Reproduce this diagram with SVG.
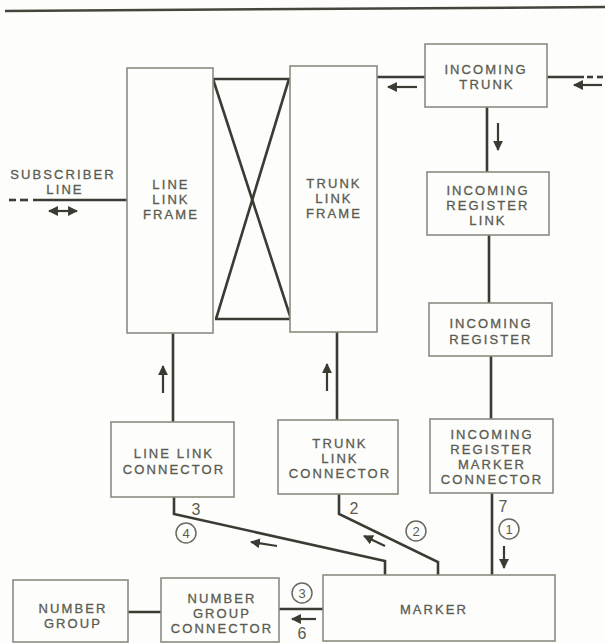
<svg xmlns="http://www.w3.org/2000/svg" width="605" height="643" viewBox="0 0 605 643">
<defs>
<style>
.box{fill:#fdfdfb;stroke:#8a8c80;stroke-width:1.6}
.ln{fill:none;stroke:#3a3b32;stroke-width:2.6;stroke-linejoin:miter}
.ar{fill:none;stroke:#3a3b32;stroke-width:2.2}
.t{font-family:"Liberation Sans",Arial,sans-serif;font-size:13px;fill:#5a5b51;text-anchor:middle;letter-spacing:2.1px;stroke:#5a5b51;stroke-width:0.3}
.n{font-family:"Liberation Sans",Arial,sans-serif;font-size:16px;fill:#5a5b51;text-anchor:middle}
.c{fill:none;stroke:#6a6b60;stroke-width:1.5}
.cn{font-family:"Liberation Sans",Arial,sans-serif;font-size:13px;fill:#5a5b51;text-anchor:middle}
</style>
<marker id="ah" viewBox="0 0 10 10" refX="9" refY="5" markerWidth="4.5" markerHeight="4.5" orient="auto-start-reverse">
<path d="M0,0 L10,5 L0,10 Z" fill="#3a3b32"/>
</marker>
</defs>
<rect width="605" height="643" fill="#fdfdfb"/>
<line x1="5" y1="11" x2="605" y2="7" stroke="#44463c" stroke-width="2.5"/>

<g id="connectors">
<polyline class="ln" points="212,79 290,79"/>
<polyline class="ln" points="215,319 291,319"/>
<line class="ln" x1="213" y1="79" x2="291" y2="319"/>
<line class="ln" x1="289" y1="79" x2="216" y2="319"/>
<line class="ln" x1="376" y1="77" x2="425" y2="77"/>
<line class="ar" x1="417" y1="87" x2="388" y2="87" marker-end="url(#ah)"/>
<line class="ln" x1="547" y1="77" x2="584" y2="77"/>
<line class="ln" x1="587" y1="77" x2="593" y2="77"/>
<line class="ln" x1="597" y1="77" x2="603" y2="77"/>
<line class="ar" x1="602" y1="85" x2="574" y2="85" marker-end="url(#ah)"/>
<line class="ln" x1="487" y1="107" x2="487" y2="172"/>
<line class="ar" x1="498" y1="123" x2="498" y2="150" marker-end="url(#ah)"/>
<line class="ln" x1="489" y1="235" x2="489" y2="303"/>
<line class="ln" x1="491" y1="356" x2="491" y2="419"/>
<line class="ln" x1="9" y1="200" x2="16" y2="200"/>
<line class="ln" x1="20" y1="200" x2="28" y2="200"/>
<line class="ln" x1="33" y1="200" x2="128" y2="200"/>
<line class="ar" x1="49" y1="211" x2="77" y2="211" marker-start="url(#ah)" marker-end="url(#ah)"/>
<line class="ln" x1="173" y1="333" x2="173" y2="422"/>
<line class="ar" x1="163" y1="393" x2="163" y2="366" marker-end="url(#ah)"/>
<line class="ln" x1="337" y1="332" x2="337" y2="420"/>
<line class="ar" x1="327" y1="391" x2="327" y2="364" marker-end="url(#ah)"/>
<polyline class="ln" points="174,497 174,514 385,561 385,575"/>
<text class="n" x="196" y="515">3</text>
<circle class="c" cx="186" cy="533" r="10"/>
<text class="cn" x="186" y="538">4</text>
<line class="ar" x1="277" y1="546" x2="251" y2="542" marker-end="url(#ah)"/>
<polyline class="ln" points="339,494 339,514 438,562 438,575"/>
<text class="n" x="354" y="514">2</text>
<circle class="c" cx="416" cy="531" r="10"/>
<text class="cn" x="416" y="536">2</text>
<line class="ar" x1="385" y1="546" x2="364" y2="536" marker-end="url(#ah)"/>
<line class="ln" x1="492" y1="493" x2="492" y2="575"/>
<text class="n" x="503" y="512">7</text>
<circle class="c" cx="509" cy="529" r="10"/>
<text class="cn" x="509" y="534">1</text>
<line class="ar" x1="504" y1="546" x2="504" y2="568" marker-end="url(#ah)"/>
<line class="ln" x1="279" y1="609" x2="323" y2="609"/>
<circle class="c" cx="302" cy="593" r="10"/>
<text class="cn" x="302" y="598">3</text>
<line class="ar" x1="316" y1="619" x2="292" y2="619" marker-end="url(#ah)"/>
<text class="n" x="302" y="639">6</text>
<line class="ln" x1="128" y1="612" x2="161" y2="612"/>
</g>

<g id="subscriber-line">
<text class="t" x="63" y="179">SUBSCRIBER</text>
<text class="t" x="65" y="194">LINE</text>
</g>

<g id="line-link-frame">
<rect class="box" x="127" y="68" width="86" height="265"/>
<text class="t" x="171" y="189">LINE</text>
<text class="t" x="171" y="204">LINK</text>
<text class="t" x="171" y="219">FRAME</text>
</g>

<g id="trunk-link-frame">
<rect class="box" x="290" y="66" width="87" height="266"/>
<text class="t" x="334" y="188">TRUNK</text>
<text class="t" x="334" y="203">LINK</text>
<text class="t" x="334" y="218">FRAME</text>
</g>

<g id="incoming-trunk">
<rect class="box" x="425" y="44" width="122" height="63"/>
<text class="t" x="486" y="74">INCOMING</text>
<text class="t" x="487" y="89">TRUNK</text>
</g>

<g id="incoming-register-link">
<rect class="box" x="427" y="172" width="122" height="63"/>
<text class="t" x="488" y="195">INCOMING</text>
<text class="t" x="488" y="210">REGISTER</text>
<text class="t" x="488" y="225">LINK</text>
</g>

<g id="incoming-register">
<rect class="box" x="429" y="303" width="123" height="53"/>
<text class="t" x="491" y="328">INCOMING</text>
<text class="t" x="491" y="344">REGISTER</text>
</g>

<g id="line-link-connector">
<rect class="box" x="111" y="422" width="123" height="75"/>
<text class="t" x="174" y="458">LINE LINK</text>
<text class="t" x="174" y="474">CONNECTOR</text>
</g>

<g id="trunk-link-connector">
<rect class="box" x="278" y="420" width="120" height="74"/>
<text class="t" x="340" y="448">TRUNK</text>
<text class="t" x="340" y="463">LINK</text>
<text class="t" x="340" y="478">CONNECTOR</text>
</g>

<g id="incoming-register-marker-connector">
<rect class="box" x="430" y="419" width="123" height="74"/>
<text class="t" x="492" y="439">INCOMING</text>
<text class="t" x="492" y="454">REGISTER</text>
<text class="t" x="492" y="469">MARKER</text>
<text class="t" x="492" y="484">CONNECTOR</text>
</g>

<g id="number-group">
<rect class="box" x="13" y="580" width="115" height="62"/>
<text class="t" x="73" y="613">NUMBER</text>
<text class="t" x="73" y="628">GROUP</text>
</g>

<g id="number-group-connector">
<rect class="box" x="161" y="578" width="118" height="64"/>
<text class="t" x="222" y="603">NUMBER</text>
<text class="t" x="222" y="618">GROUP</text>
<text class="t" x="222" y="633">CONNECTOR</text>
</g>

<g id="marker">
<rect class="box" x="323" y="575" width="232" height="66"/>
<text class="t" x="434" y="614">MARKER</text>
</g>
</svg>
